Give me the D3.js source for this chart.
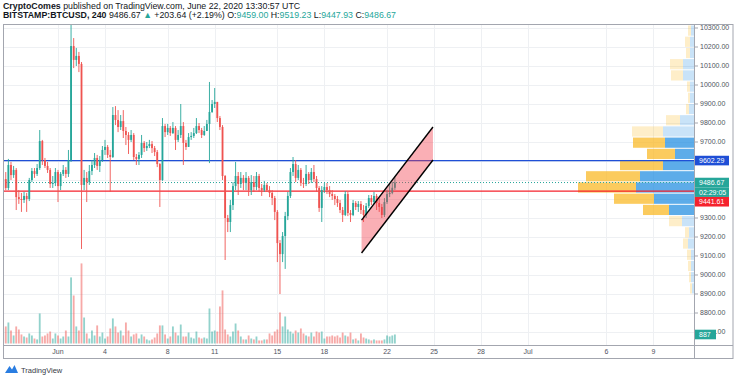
<!DOCTYPE html>
<html>
<head>
<meta charset="utf-8">
<script src="https://cdn.jsdelivr.net/npm/d3@7"></script>
<style>
  body { margin: 0; background: #fff; }
  svg { display: block; font-family: "Liberation Sans", Arial, sans-serif; }
</style>
</head>
<body>
<div id="chart"></div>
<script>
// BITSTAMP:BTCUSD 4h candles, first bar May 28 2020 12:00 UTC
const FIRST_BAR = Date.UTC(2020, 4, 28, 12)
const BAR_MS = 4 * 3600 * 1000

const open = [
  9453, 9505, 9458, 9579, 9526, 9553, 9410, 9400, 9395, 9416,
  9400, 9500, 9547, 9532, 9563, 9705, 9605, 9574, 9553, 9479,
  9484, 9542, 9468, 9532, 9553, 9532, 9605, 10205, 10132, 10153,
  10111, 9474, 9511, 9489, 9547, 9579, 9616, 9574, 9605, 9658,
  9674, 9632, 9621, 9842, 9816, 9779, 9810, 9758, 9737, 9711,
  9737, 9621, 9611, 9632, 9695, 9668, 9679, 9689, 9668, 9647,
  9584, 9500, 9784, 9752, 9774, 9747, 9774, 9711, 9737, 9784,
  9695, 9674, 9726, 9732, 9747, 9784, 9763, 9737, 9758, 9795,
  9858, 9900, 9911, 9826, 9779, 9521, 9300, 9279, 9368, 9468,
  9521, 9479, 9511, 9484, 9511, 9447, 9489, 9463, 9521, 9458,
  9447, 9474, 9447, 9432, 9405, 9332, 9168, 9110, 9205, 9310,
  9416, 9542, 9584, 9511, 9553, 9484, 9479, 9532, 9500, 9542,
  9505, 9458, 9353, 9447, 9463, 9447, 9426, 9416, 9400, 9379,
  9342, 9316, 9426, 9326, 9316, 9379, 9358, 9374, 9342, 9316,
  9363, 9405, 9384, 9416, 9379, 9358, 9316, 9384, 9426, 9432, 9459
]
const high = [
  9521, 9542, 9611, 9595, 9574, 9563, 9447, 9432, 9437, 9432,
  9511, 9563, 9563, 9584, 9763, 9711, 9616, 9595, 9563, 9521,
  9563, 9553, 9542, 9579, 9568, 9658, 10316, 10247, 10195, 10174,
  10121, 9553, 9542, 9579, 9605, 9642, 9632, 9626, 9679, 9711,
  9684, 9658, 9884, 9889, 9868, 9842, 9868, 9779, 9752, 9763,
  9747, 9637, 9647, 9737, 9705, 9700, 9711, 9705, 9679, 9658,
  9589, 9826, 9795, 9795, 9784, 9805, 9784, 9763, 9900, 9805,
  9711, 9747, 9752, 9774, 9826, 9800, 9774, 9784, 9816, 10016,
  9921, 9984, 9911, 9837, 9789, 9526, 9316, 9395, 9489, 9595,
  9542, 9542, 9526, 9542, 9521, 9526, 9521, 9542, 9532, 9479,
  9495, 9484, 9468, 9447, 9416, 9342, 9184, 9226, 9332, 9437,
  9563, 9621, 9605, 9579, 9563, 9511, 9579, 9542, 9563, 9579,
  9521, 9468, 9468, 9484, 9484, 9468, 9447, 9426, 9416, 9395,
  9358, 9442, 9437, 9342, 9395, 9389, 9389, 9389, 9368, 9379,
  9421, 9421, 9437, 9426, 9405, 9374, 9405, 9447, 9479, 9490, 9519.23
]
const low = [
  9279, 9447, 9447, 9500, 9511, 9342, 9374, 9332, 9379, 9332,
  9389, 9489, 9511, 9521, 9553, 9579, 9563, 9537, 9458, 9458,
  9468, 9384, 9447, 9521, 9511, 9516, 9595, 10089, 10100, 10068,
  9137, 9447, 9384, 9474, 9526, 9563, 9553, 9542, 9595, 9632,
  9616, 9437, 9616, 9789, 9752, 9763, 9721, 9684, 9637, 9700,
  9605, 9579, 9579, 9616, 9647, 9653, 9668, 9642, 9626, 9568,
  9358, 9495, 9726, 9737, 9732, 9742, 9658, 9700, 9721, 9579,
  9658, 9674, 9711, 9721, 9742, 9747, 9721, 9732, 9758, 9589,
  9853, 9879, 9805, 9763, 9500, 9079, 9226, 9226, 9342, 9447,
  9421, 9458, 9447, 9447, 9416, 9421, 9437, 9447, 9437, 9416,
  9437, 9437, 9410, 9368, 9289, 9068, 8900, 9068, 9032, 9289,
  9405, 9521, 9489, 9500, 9468, 9458, 9468, 9479, 9484, 9489,
  9437, 9332, 9279, 9432, 9426, 9410, 9395, 9368, 9358, 9326,
  9279, 9310, 9310, 9279, 9310, 9342, 9332, 9321, 9279, 9300,
  9353, 9368, 9374, 9342, 9332, 9300, 9305, 9374, 9410, 9425, 9447.93
]
const close = [
  9505, 9458, 9579, 9526, 9553, 9410, 9400, 9395, 9416, 9400,
  9500, 9547, 9532, 9563, 9705, 9605, 9574, 9553, 9479, 9484,
  9542, 9468, 9532, 9553, 9532, 9605, 10205, 10132, 10153, 10111,
  9474, 9511, 9489, 9547, 9579, 9616, 9574, 9605, 9658, 9674,
  9632, 9621, 9842, 9816, 9779, 9810, 9758, 9737, 9711, 9737,
  9621, 9611, 9632, 9695, 9668, 9679, 9689, 9668, 9647, 9584,
  9500, 9784, 9752, 9774, 9747, 9774, 9711, 9737, 9784, 9695,
  9674, 9726, 9732, 9747, 9784, 9763, 9737, 9758, 9795, 9858,
  9900, 9911, 9826, 9779, 9521, 9300, 9279, 9368, 9468, 9521,
  9479, 9511, 9484, 9511, 9447, 9489, 9463, 9521, 9458, 9447,
  9474, 9447, 9432, 9405, 9332, 9168, 9110, 9205, 9310, 9416,
  9542, 9584, 9511, 9553, 9484, 9479, 9532, 9500, 9542, 9505,
  9458, 9353, 9447, 9463, 9447, 9426, 9416, 9400, 9379, 9342,
  9316, 9426, 9326, 9316, 9379, 9358, 9374, 9342, 9316, 9363,
  9405, 9384, 9416, 9379, 9358, 9316, 9384, 9426, 9432, 9459, 9486.67
]
const volume = [
  1500, 1680, 2070, 1280, 790, 1680, 1380, 890, 690, 590,
  990, 790, 490, 400, 2960, 690, 790, 990, 1180, 490,
  990, 790, 490, 690, 1280, 690, 6510, 4730, 1680, 1280,
  7890, 2560, 990, 490, 1280, 790, 1780, 690, 1080, 490,
  690, 1480, 2470, 1680, 1080, 1280, 790, 2070, 1280, 690,
  890, 990, 490, 890, 690, 400, 300, 400, 590, 990,
  1780, 1780, 890, 490, 690, 1680, 1080, 790, 1870, 690,
  690, 1080, 590, 490, 1180, 590, 490, 590, 490, 3450,
  1180, 1280, 1180, 3650, 5230, 1380, 890, 690, 1180, 1970,
  1280, 690, 400, 400, 790, 490, 400, 690, 300, 300,
  400, 400, 990, 790, 1180, 1380, 3060, 1680, 2660, 1380,
  1180, 990, 1280, 1080, 1480, 990, 790, 690, 1080, 690,
  1180, 1080, 1180, 490, 690, 690, 790, 690, 790, 590,
  1080, 790, 690, 1080, 400, 490, 300, 990, 590, 490,
  400, 300, 400, 300, 300, 300, 400, 790, 690, 790, 887
]

// volume profile (visible range), rows from bottom to top
const vpLow = 8900
const vpHigh = 10316
const vpUp = [2, 3, 3, 3, 6, 5, 12, 25, 40, 58, 54, 31, 19, 29, 31, 14, 5, 4, 4, 11, 11, 4, 4, 3]
const vpDown = [2, 2, 3, 4, 5, 4, 13, 26, 40, 58, 54, 43, 28, 32, 31, 14, 3, 2, 3, 12, 13, 4, 5, 3]
const valueArea = [7, 13]

// drawings
const levelPrices = [9602.29, 9441.61]
const levelColors = ['#1f4fd6', '#f5222d']
const channelTimes = [Date.UTC(2020, 5, 20, 9), Date.UTC(2020, 5, 24, 22, 20)]
const channelUpper = [9289, 9779]
const channelLower = [9116, 9605]

const priceTicks = d3.range(8700, 10301, 100)
const timeTicks = ['2020-06-01', '2020-06-04', '2020-06-08', '2020-06-11', '2020-06-15', '2020-06-18',
                   '2020-06-22', '2020-06-25', '2020-06-28', '2020-07-01', '2020-07-06', '2020-07-09']
const timeLabels = ['Jun', '4', '8', '11', '15', '18', '22', '25', '28', 'Jul', '6', '9']

const UP = '#26a69a'
const DOWN = '#ef5350'
const GRID = '#eef0f3'
const AXIS_TEXT = '#50535e'
const BORDER = '#a3a6af'

const W = 736, H = 379
const PLOT = { left: 3, right: 694, top: 24, bottom: 345 }

const svg = d3.select('#chart').append('svg')
                               .attr('width', W)
                               .attr('height', H)

const x = d3.scaleUtc()
            .domain([Date.UTC(2020, 4, 28, 11, 45), Date.UTC(2020, 6, 11, 14, 10)])
            .range([PLOT.left, PLOT.right])
const y = d3.scaleLinear().domain([8700, 10300]).range([332, 28])
const yVol = d3.scaleLinear().domain([0, 10000]).range([343.5, 242])

const candles = open.map((o, i) => ({
  t: new Date(FIRST_BAR + i * BAR_MS), o, h: high[i], l: low[i], c: close[i], v: volume[i]
}))
const barW = (x(new Date(FIRST_BAR + BAR_MS)) - x(new Date(FIRST_BAR))) * 0.7
const colorOf = d => d.c >= d.o ? UP : DOWN

const defs = svg.append('defs')
defs.append('clipPath')
      .attr('id', 'plot-clip')
        .append('rect')
          .attr('x', PLOT.left)
          .attr('y', PLOT.top)
          .attr('width', PLOT.right - PLOT.left)
          .attr('height', PLOT.bottom - PLOT.top)

// header
const header = svg.append('g').attr('font-size', 8.8).attr('fill', '#131722')
const line1 = header.append('text').attr('x', 3).attr('y', 8.5)
line1.append('tspan').attr('font-weight', 'bold').text('CryptoComes')
line1.append('tspan').text(' published on TradingView.com, June 22, 2020 13:30:57 UTC')
const line2 = header.append('text').attr('x', 3).attr('y', 18)
const parts = [
  ['BITSTAMP:BTCUSD, 240', '#131722', 'bold'], [' 9486.67 ', '#131722'], ['\u25B2', UP], [' +203.64 (+2.19%) ', '#131722'],
  ['O:', '#131722'], ['9459.00', UP], [' H:', '#131722'], ['9519.23', UP],
  [' L:', '#131722'], ['9447.93', UP], [' C:', '#131722'], ['9486.67', UP]
]
parts.forEach(p => {
  line2.append('tspan').attr('fill', p[1]).attr('font-weight', p[2] || 'normal').text(p[0])
})

// grid
const plot = svg.append('g').attr('clip-path', 'url(#plot-clip)')
plot.selectAll('line.hgrid')
    .data(priceTicks)
    .enter()
      .append('line')
      .attr('class', 'hgrid')
      .attr('x1', PLOT.left).attr('x2', PLOT.right)
      .attr('y1', d => Math.round(y(d)) + 0.5).attr('y2', d => Math.round(y(d)) + 0.5)
      .attr('stroke', GRID)
plot.selectAll('line.vgrid')
    .data(timeTicks)
    .enter()
      .append('line')
      .attr('class', 'vgrid')
      .attr('x1', d => Math.round(x(new Date(d))) + 0.5).attr('x2', d => Math.round(x(new Date(d))) + 0.5)
      .attr('y1', PLOT.top).attr('y2', PLOT.bottom)
      .attr('stroke', GRID)

// volume profile
const rowH = (vpHigh - vpLow) / vpUp.length
const vpX = d3.scaleLinear()
              .domain([0, d3.max(vpUp.map((u, i) => u + vpDown[i]))])
              .range([0, 116])
const rows = vpUp.map((u, i) => ({ i, up: u, down: vpDown[i] }))
const inVA = d => d.i >= valueArea[0] && d.i <= valueArea[1]
const rowTop = d => y(vpLow + (d.i + 1) * rowH) + 0.5
const rowHeight = d => y(vpLow + d.i * rowH) - y(vpLow + (d.i + 1) * rowH) - 1
const vp = plot.append('g')
vp.selectAll('rect.vp-up')
  .data(rows)
  .enter()
    .append('rect')
    .attr('x', d => PLOT.right - vpX(d.up))
    .attr('y', rowTop)
    .attr('width', d => vpX(d.up))
    .attr('height', rowHeight)
    .attr('fill', d => inVA(d) ? 'rgba(30,140,225,0.72)' : 'rgba(30,140,225,0.24)')
vp.selectAll('rect.vp-down')
  .data(rows)
  .enter()
    .append('rect')
    .attr('x', d => PLOT.right - vpX(d.up) - vpX(d.down))
    .attr('y', rowTop)
    .attr('width', d => vpX(d.down))
    .attr('height', rowHeight)
    .attr('fill', d => inVA(d) ? 'rgba(250,186,40,0.75)' : 'rgba(250,186,40,0.25)')

// volume bars
plot.selectAll('rect.vol')
    .data(candles)
    .enter()
      .append('rect')
      .attr('class', 'vol')
      .attr('x', d => x(d.t) - barW / 2)
      .attr('width', barW)
      .attr('y', d => yVol(d.v))
      .attr('height', d => yVol(0) - yVol(d.v))
      .attr('fill', colorOf)
      .attr('opacity', 0.5)

// level lines
plot.append('line')
    .attr('x1', PLOT.left).attr('x2', PLOT.right)
    .attr('y1', y(close[close.length - 1])).attr('y2', y(close[close.length - 1]))
    .attr('stroke', UP)
    .attr('stroke-dasharray', '1,2')
plot.selectAll('line.level')
    .data(levelPrices)
    .enter()
      .append('line')
      .attr('class', 'level')
      .attr('x1', PLOT.left).attr('x2', PLOT.right)
      .attr('y1', d => y(d)).attr('y2', d => y(d))
      .attr('stroke', (d, i) => levelColors[i])
      .attr('stroke-width', 1.3)

// candles
const bars = plot.selectAll('g.candle')
                 .data(candles)
                 .enter()
                   .append('g')
                   .attr('class', 'candle')
bars.append('line')
    .attr('x1', d => x(d.t)).attr('x2', d => x(d.t))
    .attr('y1', d => y(d.h)).attr('y2', d => y(d.l))
    .attr('stroke', colorOf)
    .attr('stroke-width', 0.9)
bars.append('rect')
    .attr('x', d => x(d.t) - barW / 2)
    .attr('width', barW)
    .attr('y', d => y(Math.max(d.o, d.c)))
    .attr('height', d => Math.max(1, Math.abs(y(d.o) - y(d.c))))
    .attr('fill', colorOf)

// rising channel
const cx = channelTimes.map(t => x(new Date(t)))
const channel = [[cx[0], y(channelUpper[0])], [cx[1], y(channelUpper[1])],
                 [cx[1], y(channelLower[1])], [cx[0], y(channelLower[0])]]
plot.append('path')
    .attr('d', d3.line()(channel) + 'Z')
    .attr('fill', 'rgba(242,54,69,0.4)')
plot.append('line')
    .attr('x1', channel[0][0]).attr('y1', channel[0][1])
    .attr('x2', channel[1][0]).attr('y2', channel[1][1])
    .attr('stroke', '#000').attr('stroke-width', 1.4)
plot.append('line')
    .attr('x1', channel[3][0]).attr('y1', channel[3][1])
    .attr('x2', channel[2][0]).attr('y2', channel[2][1])
    .attr('stroke', '#000').attr('stroke-width', 1.4)

// frame
svg.append('rect')
     .attr('x', 3.5).attr('y', PLOT.top + 0.5)
     .attr('width', 733 - 3.5).attr('height', 358 - PLOT.top)
     .attr('fill', 'none').attr('stroke', BORDER)
svg.append('line')
     .attr('x1', PLOT.right + 0.5).attr('x2', PLOT.right + 0.5)
     .attr('y1', PLOT.top).attr('y2', 358.5)
     .attr('stroke', BORDER)
svg.append('line')
     .attr('x1', 3.5).attr('x2', 733)
     .attr('y1', PLOT.bottom + 0.5).attr('y2', PLOT.bottom + 0.5)
     .attr('stroke', BORDER)

// price axis tags (last price, countdown, levels, last volume)
const tagH = 9.6
const lastY = y(close[close.length - 1])
const tags = [
  { text: '9602.29', yc: y(levelPrices[0]), fill: levelColors[0], w: 34 },
  { text: '9486.67', yc: lastY, fill: UP, w: 34 },
  { text: '02:29:05', yc: lastY + tagH, fill: UP, w: 34 },
  { text: '9441.61', yc: lastY + tagH * 2, fill: levelColors[1], w: 34 },
  { text: d3.format('d')(volume[volume.length - 1]), yc: yVol(volume[volume.length - 1]), fill: UP, w: 21 }
]
const hiddenBy = v => tags.find(t => Math.abs(t.yc - y(v)) < tagH && t.w > 30)
const coveredBy = v => tags.find(t => Math.abs(t.yc - y(v)) < tagH && t.w <= 30)

// label of a tick partly under the volume tag shows only the part to its right
tags.filter(t => t.w <= 30).forEach((t, i) => {
  defs.append('clipPath')
        .attr('id', `tag-clip-${i}`)
          .append('rect')
            .attr('x', PLOT.right + 1 + t.w)
            .attr('y', t.yc - 10)
            .attr('width', 40)
            .attr('height', 20)
})

const yAxis = svg.append('g').attr('font-size', 7).attr('fill', AXIS_TEXT)
const eachTick = yAxis.selectAll('g.tick')
                      .data(priceTicks)
                      .enter()
                        .append('g')
                        .attr('class', 'tick')
eachTick.append('line')
        .attr('x1', PLOT.right).attr('x2', PLOT.right + 4)
        .attr('y1', d => y(d)).attr('y2', d => y(d))
        .attr('stroke', BORDER)
eachTick.filter(d => !hiddenBy(d))
        .append('text')
        .attr('x', PLOT.right + 6)
        .attr('y', d => y(d))
        .attr('dy', '0.35em')
        .attr('clip-path', d => coveredBy(d) ? 'url(#tag-clip-0)' : null)
        .text(d => d3.format('.2f')(d))

const tag = yAxis.selectAll('g.tag')
                 .data(tags)
                 .enter()
                   .append('g')
                   .attr('class', 'tag')
tag.append('rect')
   .attr('x', PLOT.right + 1)
   .attr('y', d => d.yc - tagH / 2)
   .attr('width', d => d.w)
   .attr('height', tagH)
   .attr('fill', d => d.fill)
tag.append('text')
   .attr('x', PLOT.right + 5)
   .attr('y', d => d.yc)
   .attr('dy', '0.35em')
   .attr('fill', '#fff')
   .text(d => d.text)

// time axis
const xAxis = svg.append('g').attr('font-size', 7).attr('fill', AXIS_TEXT)
xAxis.selectAll('text')
     .data(timeTicks)
     .enter()
       .append('text')
       .attr('x', d => x(new Date(d)))
       .attr('y', 353.5)
       .attr('text-anchor', 'middle')
       .text((d, i) => timeLabels[i])

// TradingView logo
const logo = svg.append('g').attr('transform', 'translate(5,364)')
logo.append('path')
    .attr('d', 'M0,9 L4.5,2 L7,5.5 L9.5,1 L13,9 Z')
    .attr('fill', '#2a7de1')
logo.append('text')
    .attr('x', 16).attr('y', 8.5)
    .attr('font-size', 7.5)
    .attr('fill', '#363a45')
    .text('TradingView')
</script>
</body>
</html>
